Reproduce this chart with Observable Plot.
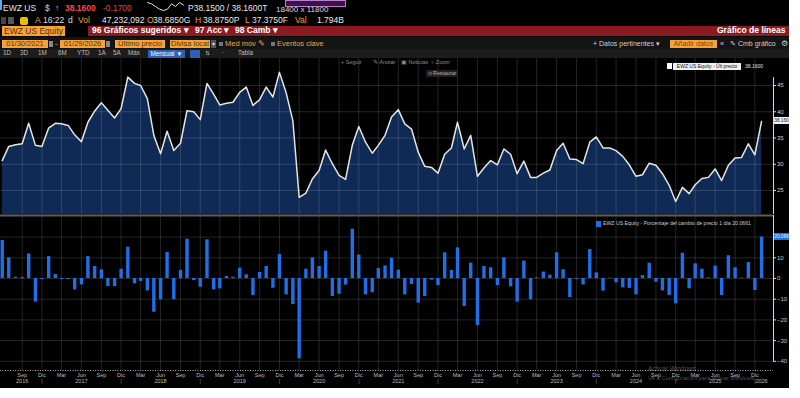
<!DOCTYPE html>
<html lang="es"><head><meta charset="utf-8">
<script src="https://cdn.jsdelivr.net/npm/d3@7"></script>
<script src="https://cdn.jsdelivr.net/npm/@observablehq/plot@0.6"></script>
<style>
html,body{margin:0;padding:0;background:#fff;}
body{width:800px;height:398px;overflow:hidden;position:relative;font-family:"Liberation Sans",Arial,sans-serif;}
#bb{position:absolute;left:0;top:0;width:789px;height:388px;background:#000;overflow:hidden;}
.t{position:absolute;white-space:nowrap;line-height:1;}
.b{position:absolute;white-space:nowrap;overflow:hidden;}
.p{position:absolute;}
.p svg{overflow:visible;}
</style></head><body>
<div id="bb"></div>
<script>
// ---------- DATA ----------
const startMonth = "2016-06";           // first monthly observation
const price = [30.7,33.4,33.7,33.9,37.8,33.6,33.4,36.9,37.8,37.7,
  37.4,35.6,34.3,38.0,40.1,41.7,40.3,38.8,40.6,46.6,
  45.4,45.0,42.5,35.5,32.0,36.3,32.6,34.0,40.2,40.0,
  38.5,45.4,43.3,41.3,41.6,41.8,43.7,44.7,41.2,42.3,
  44.7,42.8,47.5,43.6,38.3,23.7,24.5,27.2,28.8,32.7,
  30.1,27.9,27.1,33.6,37.2,34.2,32.1,33.6,35.5,39.0,
  40.4,37.7,36.7,32.3,29.6,29.4,28.3,31.9,33.1,38.0,
  32.9,35.5,27.7,29.3,30.7,29.9,32.9,31.9,28.2,30.6,
  27.5,27.5,28.3,28.9,32.6,34.0,31.0,30.9,30.1,34.2,
  35.2,33.1,33.1,32.6,31.5,29.9,27.7,28.0,30.2,29.8,
  28.2,26.0,22.9,25.6,24.4,26.1,27.3,27.5,29.1,26.9,
  29.8,31.2,31.3,33.9,31.8,38.16];
const change = [18.4,10.0,0.6,0.5,11.9,-11.4,-0.5,10.6,1.9,-0.5,
  -0.5,-5.5,-3.1,10.6,5.8,4.2,-3.9,-3.9,4.5,15.1,
  -2.6,-1.4,-6.0,-16.3,-10.3,12.6,-10.3,3.9,19.0,-1.0,
  -4.2,18.7,-5.5,-5.0,1.0,0.6,5.0,1.8,-8.2,2.9,
  5.8,-4.7,11.6,-7.9,-12.6,-38.8,4.5,10.0,5.8,13.2,
  -8.7,-7.6,-3.2,23.8,11.3,-7.9,-6.9,4.8,6.1,9.7,
  4.0,-7.9,-2.9,-11.9,-8.7,-0.8,-3.4,12.4,3.9,14.8,
  -13.5,7.4,-22.7,5.8,5.2,-3.4,10.0,-4.0,-11.4,8.4,
  -10.3,0.3,3.1,1.6,12.4,4.2,-9.2,-0.5,-3.1,14.0,
  2.7,-6.1,0.2,-2.1,-4.5,-4.8,-7.9,1.4,7.4,-1.8,
  -6.0,-8.2,-12.2,12.2,-5.0,7.1,4.5,0.3,6.0,-8.2,
  11.0,5.2,0.2,7.7,-5.8,20.066];
const monthNames = ["Ene","Feb","Mar","Abr","May","Jun","Jul","Ago","Sep","Oct","Nov","Dic"];
const yearLabels = ["2016","2017","2018","2019","2020","2021","2022","2023","2024","2025","2026"];
const priceTicks = [25,30,35,40,45];
const changeTicks = [-40,-30,-20,-10,0,10];
const changeGrid = [-40,-30,-20,-10,0,10,20];
const sparkValues = [8,7,5,3,2,3,7,5,8,6];
const lastPriceTag = "38.160";
const lastChangeTag = "20.066";

// ---------- derived table ----------
const t0 = d3.utcParse("%Y-%m")(startMonth);
const rows = price.map((p,i)=>({date:d3.utcMonth.offset(t0,i), price:p, chg:change[i]}));
const quarters = d3.range(3, rows.length, 3).map(i=>rows[i].date);
const decs = quarters.filter(d=>d.getUTCMonth()===11);
const yearData = yearLabels.map((lab,k)=>{
  let d;
  if (k===0) d = rows[3].date;
  else if (k===yearLabels.length-1) d = rows[rows.length-1].date;
  else d = new Date(Date.UTC(+lab,5,1));
  return {date:d,label:lab};
});
const xDomain = [new Date(Date.UTC(2016,4,24)), new Date(Date.UTC(2026,1,25))];
const priceDomain = [20.43, 50.14];
const changeDomain = [-44.44, 30.43];
const FONT = '"Liberation Sans", Arial, sans-serif';

// ---------- helpers ----------
const bb = document.getElementById("bb");
function put(text,x,yc,size,color,css={}){
  const d=document.createElement("div");d.className="t";d.textContent=text;
  Object.assign(d.style,{left:x+"px",top:(yc-size*0.56)+"px",fontSize:size+"px",color},css);
  bb.appendChild(d);return d;
}
function rect(x,y,w,h,bg,css={}){
  const d=document.createElement("div");d.className="b";
  Object.assign(d.style,{left:x+"px",top:y+"px",width:w+"px",height:h+"px",background:bg},css);
  bb.appendChild(d);return d;
}
function boxText(text,x,y,w,h,bg,color,size,css={}){
  const d=rect(x,y,w,h,bg,Object.assign({color,fontSize:size+"px",lineHeight:h+"px",textAlign:"center"},css));
  d.textContent=text;return d;
}
function place(node,x,y){const w=document.createElement("div");w.className="p";w.style.left=x+"px";w.style.top=y+"px";w.appendChild(node);bb.appendChild(w);return w;}

// ---------- chrome rows ----------
const OR="#f0a028";
rect(0,0,2,10,"#5aa9e6");
put("EWZ US",3,8.5,8.5,"#e8e8e8");
put("$",45,8.5,8.5,"#cfcfcf");
put("↑",55,8.5,8.5,"#cfcfcf");
put("38.1600",65,8.5,8.5,"#ff4646",{fontWeight:"bold"});
put("-0.1700",103,8.5,8.5,"#e04a4a");
put("P38.1500 / 38.1600T",188,8.5,8.5,"#e8e8e8");
put("18400 x 11800",276,10,8,"#dcdcdc");
rect(285,0,61,7,"#3a1544",{border:"1px solid #b97fd0",boxSizing:"border-box"});

rect(1,17,5,7,"#444");rect(8,17,6,7,"#555");
rect(20,16.5,8,8,"#e6c200",{borderRadius:"2px"});
put("A",35,21,8.5,OR);put("16:22",43,21,8.5,"#dedede");put("d",68,21,8.5,"#dedede");
put("Vol",78,21,8.5,OR);put("47,232,092",102,21,8.5,"#e8e8e8");
put("O",147,21,8.5,OR);put("38.6850G",153,21,8.5,"#e8e8e8");
put("H",195,21,8.5,OR);put("38.8750P",203,21,8.5,"#e8e8e8");
put("L",245,21,8.5,OR);put("37.3750F",252,21,8.5,"#e8e8e8");
put("Val",295,21,8.5,OR);put("1.794B",317,21,8.5,"#e8e8e8");

boxText("EWZ US Equity",2,26,63,10,"#f3a33a","#5a2e00",8.5,{textAlign:"left",paddingLeft:"2px",boxSizing:"border-box"});
rect(88,26,701,10,"#8b1a22");
put("96 Gráficos sugeridos ▾",92,31,8.5,"#fff",{fontWeight:"bold"});
put("97 Acc ▾",195,31,8.5,"#fff",{fontWeight:"bold"});
put("98 Camb ▾",235,31,8.5,"#fff",{fontWeight:"bold"});
put("Gráfico de líneas",717,31,8.5,"#fff",{fontWeight:"bold"});

rect(0,37,789,12,"#141414");
boxText("01/30/2021",2,39.5,46,8.5,"#f3a33a","#5a2e00",7.5);
rect(48.5,40.5,4,6,"#888");
put("-",55,44,7.5,"#ccc");
boxText("01/29/2026",60,39.5,45,8.5,"#f3a33a","#5a2e00",7.5);
rect(105.5,40.5,4,6,"#888");
boxText("Último precio",115,39.5,50,8.5,"#f3a33a","#5a2e00",7.5);
boxText("Divisa local",170,39.5,40,8.5,"#f3a33a","#5a2e00",7.5);
boxText("▾",211,39.5,5,8.5,"#555","#ddd",6);
rect(219,41.5,4,4,"#777");put("Med móv ✎",225,44,7.5,"#e8a548");
rect(271,41.5,4,4,"#777");put("Eventos clave",277,44,7.5,"#e8a548");
put("+ Datos pertinentes ▾",593,44,7,"#cfcfcf");
boxText("Añadir datos",670,39.5,47,8.5,"#f3a33a","#7a4500",7);
put("«",720,44,7.5,"#cfcfcf");
put("✎ Cmb gráfico",730,44,7,"#cfcfcf");
put("⚙",781,44,7.5,"#cfcfcf");

rect(0,49,789,9,"#1c1c1c");
[["1D",3],["3D",20],["1M",38],["6M",58],["YTD",77],["1A",98],["5A",113],["Máx",128]].forEach(([s,x])=>put(s,x,53.5,6.3,"#bdbdbd"));
boxText("Mensual ▼",148,49.5,37,8,"#2d5fb8","#fff",6.3);
rect(190,49.5,10,8,"#2d5fb8");
put("⇅",205,53.5,6.3,"#bdbdbd");put("·",222,53.5,6.3,"#bdbdbd");put("Tabla",238,53.5,6.3,"#bdbdbd");

// ---------- sparkline ----------
const spark = Plot.plot({width:36,height:8,margin:0,x:{axis:null},y:{axis:null},
  style:{background:"transparent"},
  marks:[Plot.lineY(sparkValues,{stroke:"#e0e0e0",strokeWidth:1})]});
place(spark,147,1.5);

// ---------- top panel: price ----------
const priceChart = Plot.plot({
  width:789,height:156,marginTop:0,marginBottom:0,marginLeft:0,marginRight:16,
  style:{background:"transparent",fontFamily:FONT,color:"#cfcfcf"},
  x:{type:"utc",domain:xDomain,axis:null},
  y:{domain:priceDomain,axis:null},
  marks:[
    Plot.areaY(rows,{x:"date",y1:()=>priceDomain[0],y2:"price",fill:"#0f2a55"}),
    Plot.gridX(quarters,{stroke:"#fff",strokeOpacity:0.14}),
    Plot.gridY(priceTicks,{stroke:"#fff",strokeOpacity:0.14}),
    Plot.lineY(rows,{x:"date",y:"price",stroke:"#e4e4e4",strokeWidth:1.5}),
    Plot.ruleX([xDomain[1]],{y1:priceTicks[4]+1.5,y2:priceDomain[0],stroke:"#d8d8d8",strokeWidth:1}),
    Plot.axisY(priceTicks,{anchor:"right",label:null,tickSize:2,tickPadding:1.5,fontSize:6,stroke:"#ddd"})
  ]
});
place(priceChart,0,58);

// ---------- bottom panel: % change ----------
const changeChart = Plot.plot({
  width:789,height:175,marginTop:2,marginBottom:18,marginLeft:0,marginRight:16,
  style:{background:"transparent",fontFamily:FONT,color:"#c4c4c4"},
  x:{type:"utc",domain:xDomain,axis:null},
  y:{domain:changeDomain,axis:null},
  marks:[
    Plot.gridX(quarters,{stroke:"#fff",strokeOpacity:0.14}),
    Plot.gridY(changeGrid,{stroke:"#fff",strokeOpacity:0.14}),
    Plot.ruleY([changeDomain[1]],{stroke:"#5e5e5e",strokeWidth:2}),
    Plot.ruleX(rows,{x:"date",y1:0,y2:"chg",stroke:"#1f6fe6",strokeWidth:3.4}),
    Plot.ruleX([xDomain[1]],{y1:changeDomain[1],y2:changeTicks[0]-0.5,stroke:"#d8d8d8",strokeWidth:1}),
    Plot.ruleY([changeDomain[0]],{stroke:"#b0b0b0",strokeDasharray:"1 1.5"}),
    Plot.axisY(changeTicks,{anchor:"right",label:null,tickSize:2,tickPadding:1.5,fontSize:6,stroke:"#ddd"}),
    Plot.axisX(quarters,{anchor:"bottom",label:null,tickSize:0,tickPadding:2.5,fontSize:5.5,fill:"#bdbdbd",
      tickFormat:d=>monthNames[d.getUTCMonth()]}),
    Plot.text(yearData,{x:"date",text:"label",frameAnchor:"bottom",dy:12.5,fontSize:5.5,fill:"#bdbdbd"}),
    Plot.text(decs,{x:d=>d,text:()=>"|",frameAnchor:"bottom",dy:12.5,fontSize:5,fill:"#9a9a9a"})
  ]
});
place(changeChart,0,213);

// ---------- value tags from the scales ----------
const last = rows[rows.length-1];
const yTop = 58 + priceChart.scale("y").apply(last.price);
boxText(lastPriceTag,774,yTop-3.5,15,7,"#f4f4f4","#111",4.7,{textAlign:"left",paddingLeft:"0.3px",boxSizing:"border-box"});
const yBot = 213 + changeChart.scale("y").apply(last.chg);
boxText(lastChangeTag,774,yBot-3.5,15,7,"#1f6fe6","#fff",4.7,{textAlign:"left",paddingLeft:"0.3px",boxSizing:"border-box"});

// ---------- overlays ----------
put("+ Seguir",341,63.5,5.5,"#8e8e8e");
put("✎ Anotar",373,63.5,5.5,"#8e8e8e");
put("▣ Noticias",401,63.5,5.5,"#8e8e8e");
put("○ Zoom",431,63.5,5.5,"#8e8e8e");
boxText("⊙ Restaurar",426,69.5,32,7,"#202020","#b0b0b0",5.3);

rect(667,63,5,6,"#ffffff");
boxText("EWZ US Equity - Últ precio",673,63,68,6.5,"#f0f0f0","#111",5);
put("38.1600",745,66.3,5,"#e0e0e0");

rect(596,221,5,6,"#1f6fe6");
put("EWZ US Equity - Porcentaje del cambio de precio 1 día 20.0661",603,224,5.2,"#cccccc");

put("Activar Windows",648,370,6.5,"rgba(190,190,190,0.45)");
put("Ve a Configuración para activar Windows.",648,379.5,5.8,"rgba(190,190,190,0.45)");
</script>
</body></html>
